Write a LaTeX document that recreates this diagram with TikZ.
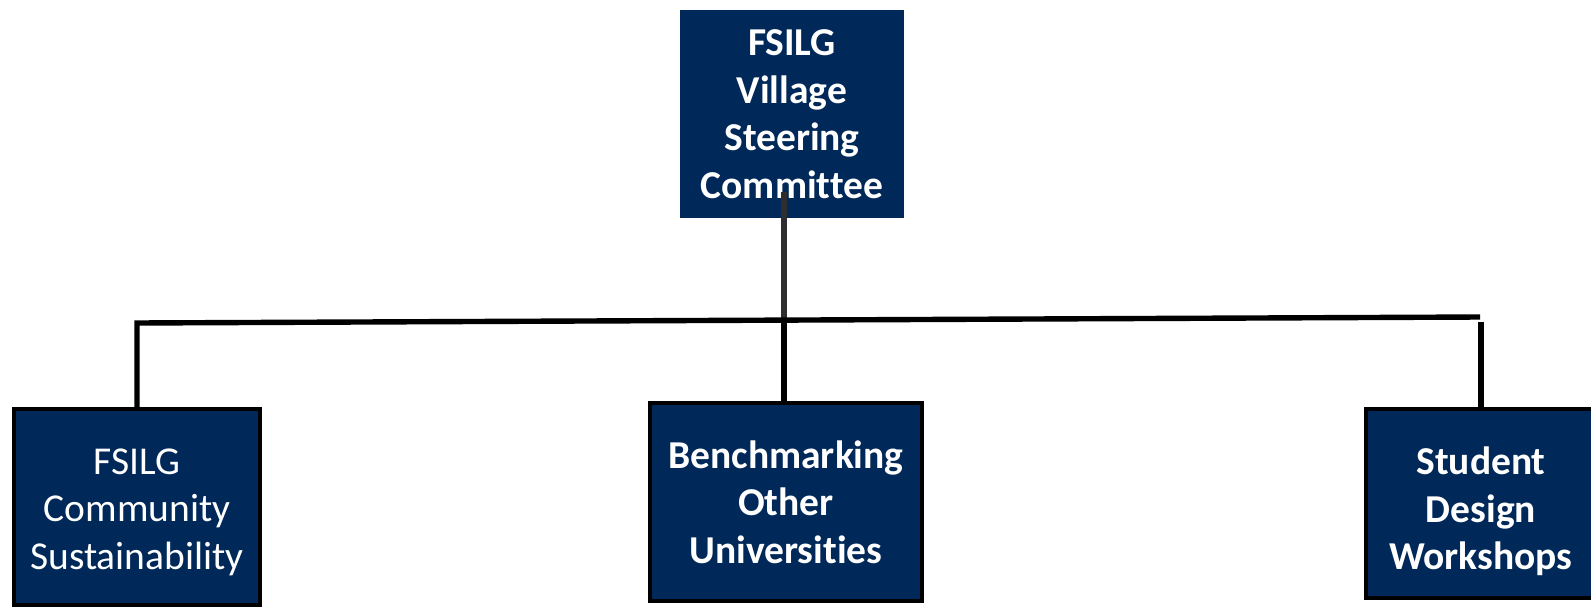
\documentclass[tikz,border=0pt]{standalone}
\usepackage{fontspec}
\setmainfont{Carlito}[RawFeature={-liga;-dlig}]
\definecolor{navy}{HTML}{002858}
\begin{document}
\begin{tikzpicture}[x=1pt,y=-1pt,
  txt/.style={text=white, align=center, inner sep=0pt,
    font=\fontsize{39.5}{47.5}\selectfont},
  boldtxt/.style={txt, font=\fontsize{39.5}{47.5}\selectfont\bfseries},
  box/.style={fill=navy, inner sep=0pt},
  framed/.style={box, draw=black, line width=4.2pt},
  conn/.style={line width=5.4pt, draw=black}]
\useasboundingbox (0,0) rectangle (1591,608);
\node[box, boldtxt, minimum width=224, minimum height=208] (top) at (792,114)
  {FSILG\\Village\\Steering\\Committee};
\node[framed, minimum width=246, minimum height=196,
  label={[txt, name=leftlbl, yshift=-5pt]center:{FSILG\\Community\\Sustainability}}] (left) at (137,507) {};
\node[framed, boldtxt, minimum width=272, minimum height=198] (mid) at (786,502)
  {Benchmarking\\Other\\Universities};
\node[framed, minimum width=230, minimum height=189,
  label={[boldtxt, name=rightlbl, yshift=-8pt]center:{Student\\Design\\Workshops}}] (right) at (1481,503.5) {};
\coordinate (hl) at (137,323);
\coordinate (hr) at (1480,317);
\coordinate (hm) at (784,320);
\coordinate (rt) at (1481,322);
\draw[conn, draw=black!82] ([xshift=-8pt,yshift=26pt]top.south) -- (hm);
\draw[conn] (hm) -- (mid.north -| hm);
\draw[conn] (left.north) -- (hl) -- (hr);
\draw[conn] (rt) -- (right.north);
\end{tikzpicture}
\end{document}
